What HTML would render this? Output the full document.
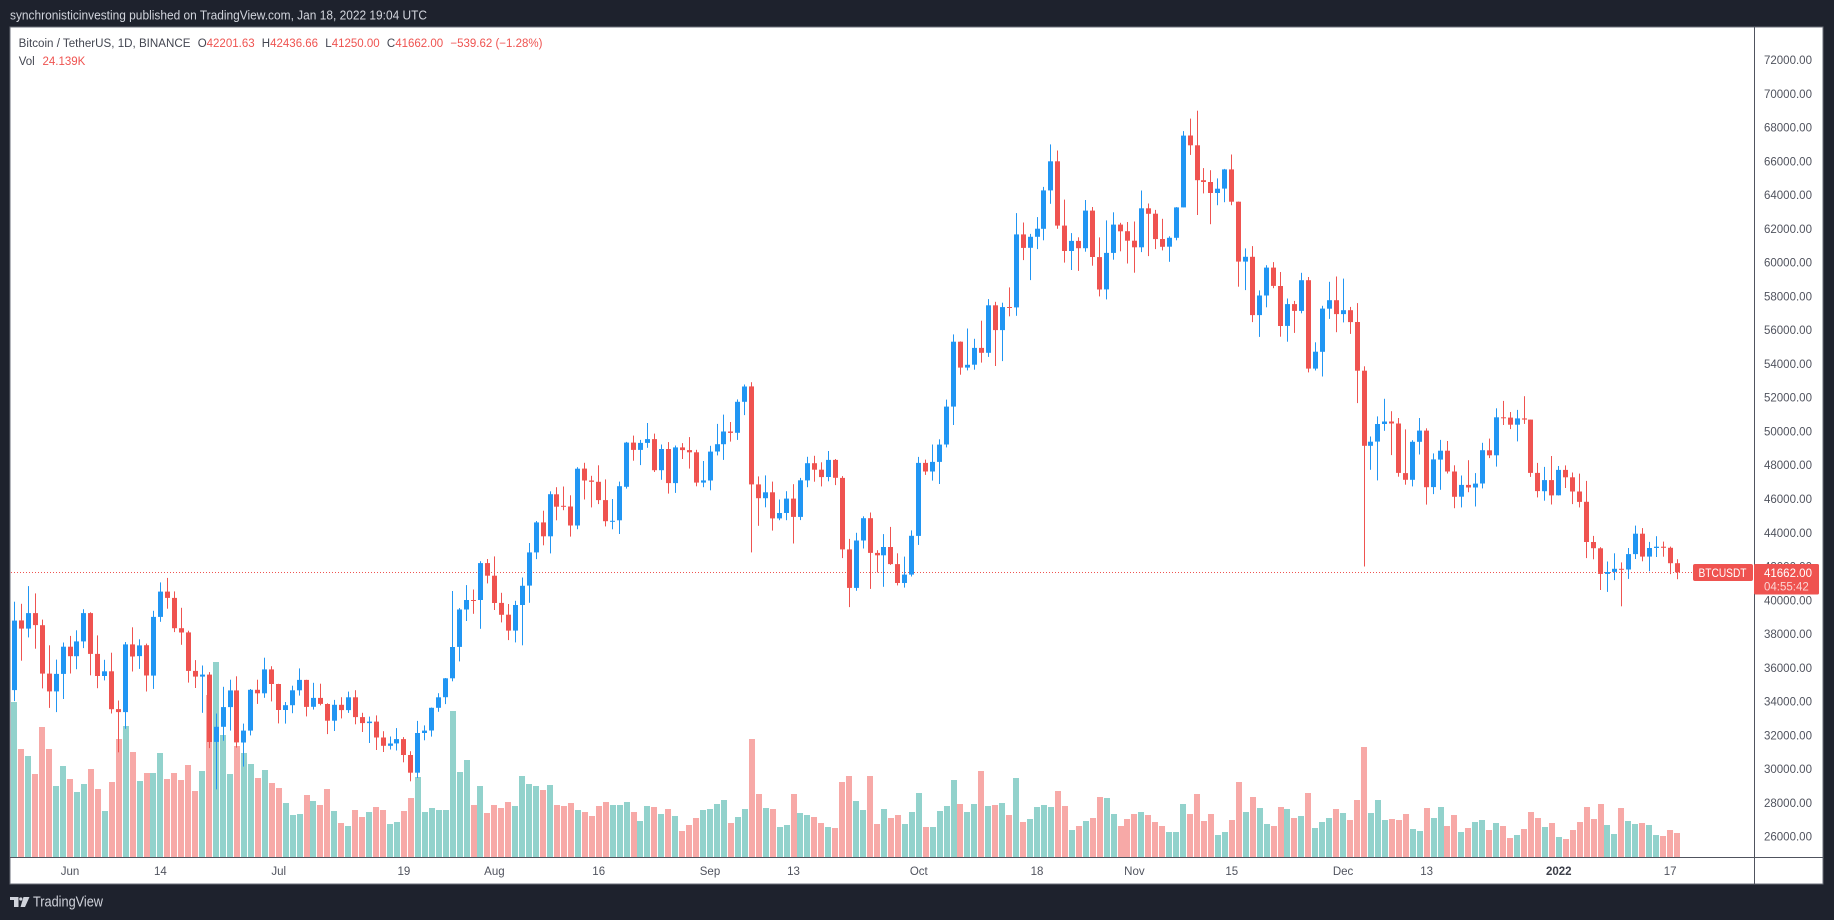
<!DOCTYPE html>
<html><head><meta charset="utf-8">
<style>
html,body{margin:0;padding:0;background:#1e222d;width:1834px;height:920px;overflow:hidden}
svg{display:block;font-family:"Liberation Sans",Arial,sans-serif}
</style></head><body>
<svg id="s" width="1834" height="920" viewBox="0 0 1834 920" xmlns="http://www.w3.org/2000/svg">
<defs><clipPath id="cp"><rect x="10.5" y="27" width="1743.5" height="830"/></clipPath></defs>
<rect width="1834" height="920" fill="#1e222d"/>
<rect x="10" y="27" width="1813" height="857" fill="#ffffff" stroke="#6a6d78" stroke-width="1"/>
<text x="10" y="19.5" font-size="12.5" fill="#d1d4dc" textLength="417" lengthAdjust="spacingAndGlyphs">synchronisticinvesting published on TradingView.com, Jan 18, 2022 19:04 UTC</text>

<g clip-path="url(#cp)">
  <g id="vol"></g>
  <line x1="11" y1="572.5" x2="1754" y2="572.5" stroke="#ef5350" stroke-width="1" stroke-dasharray="1,2"/>
  <g id="cand"></g>
</g>

<!-- legend -->
<g font-size="11.5">
<text x="18.7" y="46.8" fill="#434651" textLength="171.8" lengthAdjust="spacingAndGlyphs">Bitcoin / TetherUS, 1D, BINANCE</text>
<text x="197.7" y="46.8" fill="#434651">O<tspan fill="#ef5350">42201.63</tspan></text>
<text x="261.8" y="46.8" fill="#434651">H<tspan fill="#ef5350">42436.66</tspan></text>
<text x="325.3" y="46.8" fill="#434651">L<tspan fill="#ef5350">41250.00</tspan></text>
<text x="386.9" y="46.8" fill="#434651">C<tspan fill="#ef5350">41662.00</tspan></text>
<text x="450.4" y="46.8" fill="#ef5350">−539.62 (−1.28%)</text>
<text x="18.7" y="64.8" fill="#434651">Vol</text><text x="42.5" y="64.8" fill="#ef5350">24.139K</text>
</g>

<!-- axes separators -->
<line x1="1754.5" y1="27" x2="1754.5" y2="884" stroke="#50535e" stroke-width="1"/>
<line x1="10" y1="857.5" x2="1823" y2="857.5" stroke="#50535e" stroke-width="1"/>

<!-- price axis -->
<g font-size="11.5" fill="#50535e">
<text x="1764" y="64">72000.00</text>
<text x="1764" y="97.8">70000.00</text>
<text x="1764" y="131.5">68000.00</text>
<text x="1764" y="165.3">66000.00</text>
<text x="1764" y="199.1">64000.00</text>
<text x="1764" y="232.9">62000.00</text>
<text x="1764" y="266.6">60000.00</text>
<text x="1764" y="300.4">58000.00</text>
<text x="1764" y="334.2">56000.00</text>
<text x="1764" y="367.9">54000.00</text>
<text x="1764" y="401.7">52000.00</text>
<text x="1764" y="435.5">50000.00</text>
<text x="1764" y="469.2">48000.00</text>
<text x="1764" y="503">46000.00</text>
<text x="1764" y="536.8">44000.00</text>
<text x="1764" y="570.6">42000.00</text>
<text x="1764" y="604.3">40000.00</text>
<text x="1764" y="638.1">38000.00</text>
<text x="1764" y="671.9">36000.00</text>
<text x="1764" y="705.6">34000.00</text>
<text x="1764" y="739.4">32000.00</text>
<text x="1764" y="773.2">30000.00</text>
<text x="1764" y="806.9">28000.00</text>
<text x="1764" y="840.7">26000.00</text>
</g>

<!-- last price labels -->
<rect x="1693" y="564" width="60" height="17" rx="2" fill="#ef5350"/>
<text x="1698.5" y="577" font-size="11.5" fill="#ffffff" textLength="48" lengthAdjust="spacingAndGlyphs">BTCUSDT</text>
<rect x="1754" y="564" width="65" height="30.5" rx="1.5" fill="#ef5350"/>
<text x="1764" y="577" font-size="11.5" fill="#ffffff">41662.00</text>
<text x="1764" y="590.5" font-size="11.5" fill="#ffffff" fill-opacity="0.75">04:55:42</text>

<!-- time axis -->
<g font-size="11.5" fill="#50535e" text-anchor="middle">
<text x="70" y="875">Jun</text>
<text x="160.4" y="875">14</text>
<text x="278.7" y="875">Jul</text>
<text x="403.9" y="875">19</text>
<text x="494.4" y="875">Aug</text>
<text x="598.7" y="875">16</text>
<text x="710" y="875">Sep</text>
<text x="793.5" y="875">13</text>
<text x="918.8" y="875">Oct</text>
<text x="1037" y="875">18</text>
<text x="1134.4" y="875">Nov</text>
<text x="1231.8" y="875">15</text>
<text x="1343.1" y="875">Dec</text>
<text x="1426.6" y="875">13</text>
<text x="1558.8" y="875" font-weight="bold" fill="#3d404a">2022</text>
<text x="1670.1" y="875">17</text>
</g>

<!-- footer logo -->
<g fill="#d1d4dc">
<rect x="10" y="897" width="8.5" height="3"/>
<rect x="14" y="897" width="4.5" height="10"/>
<circle cx="20.8" cy="899" r="1.6"/>
<polygon points="23.5,897 29.5,897 25,907 20.5,907"/>
</g>
<text x="33" y="906.5" font-size="14.5" fill="#d1d4dc" textLength="70" lengthAdjust="spacingAndGlyphs">TradingView</text>
</svg>
<script>
var D=[
[37458,38270,31111,34655],[34681,39920,34031,38796],[38810,39791,36419,38324],[38324,40841,37800,39241],[39241,40411,37134,38529],[38529,38856,34779,35663],[35661,37338,33632,34605],[34605,36488,33379,35641],[35641,37499,34153,37253],
[37253,37894,35666,36693],[36694,38225,35920,37568],[37568,39476,37170,39246],[39246,39289,35555,36829],[36829,37925,34800,35520],[35516,36480,35258,35796],[35796,36900,33300,33552],[33556,34068,31000,33380],[33380,37534,32396,37388],[37389,38400,35782,36675],[36697,37690,35935,37331],[37340,37439,34600,35546],[35546,39380,34757,39020],[39020,41064,38730,40516],[40516,41330,39506,40144],[40143,40527,38116,38349],[38349,39559,37365,38092],[38098,38202,35129,35820],[35820,36457,34803,35483],[35483,36137,33336,35600],[35600,35750,31251,31608],[31614,33298,28805,32509],[32510,34881,31684,33678],[33675,35298,32286,34663],[34663,35500,31276,31584],[31577,32700,30151,32283],[32283,34749,32000,34700],[34702,35297,33862,34494],[34495,36600,34225,35911],[35911,36100,34017,35046],
[35045,35057,32711,33504],[33502,33977,32700,33787],[33786,34945,33316,34669],[34669,35967,34357,35287],[35288,35293,33125,33691],[33690,35118,33532,34220],[34220,35059,33777,33862],[33862,33900,32077,32875],[32875,34100,32261,33815],[33815,34262,33004,33502],[33502,34592,33331,34259],[34259,34679,32658,33086],[33086,33340,32202,32730],[32730,33114,31550,32820],[32820,33185,31133,31880],[31874,32249,31020,31383],[31384,31936,31164,31520],[31521,32435,31108,31778],[31778,31899,30407,30839],[30839,31063,29278,29790],[29790,32858,29482,32144],[32145,32591,31708,32287],[32287,33650,31925,33634],[33635,34500,33401,34258],[34262,35398,33851,35381],[35381,40550,35205,37237],[37241,39542,36383,39457],[39456,40900,38772,40019],[40020,40640,39200,40016],[40018,42316,38313,42206],[42206,42448,41000,41461],
[41461,42599,39422,39845],[39850,40444,38690,39147],[39146,39780,37642,38207],[38207,39969,37508,39723],[39723,41350,37332,40862],[40868,43392,39853,42836],[42836,44700,42446,44614],[44614,45310,43261,43792],[43794,46454,42779,46285],[46280,46700,44742,45543],[45595,46743,45341,45555],[45555,46218,43770,44428],[44429,47886,44217,47793],[47799,48144,45971,47096],[47096,47372,45500,47019],[47019,47998,45700,45936],[45937,47160,44376,44686],[44686,46000,44203,44709],[44741,47033,43927,46760],[46723,49382,46616,49339],[49339,49757,48273,48905],[48905,49500,48010,49321],[49322,50500,49029,49546],[49546,49875,47600,47707],[47706,49229,47136,48960],[48960,49368,46315,46942],[46942,49170,46360,49058],[49058,49309,48370,48897],[48897,49667,47801,48767],[48767,48915,46754,46970],[46970,48250,46700,47100],
[47100,49150,46512,48810],[48811,50450,48584,49246],[49247,51000,48316,49999],[50000,50558,49400,49915],[49918,51900,49500,51756],[51757,52780,50969,52663],[52667,52920,42843,46863],[46868,47340,44413,46048],[46048,47400,45513,46395],[46396,47033,44132,44851],[44851,45970,44742,45173],[45173,46460,44742,46026],[46026,46880,43370,44941],[44942,47250,44750,47111],[47103,48500,46700,48121],[48122,48557,47021,47737],[47737,48177,46750,47300],[47300,48844,47050,48314],[48315,48372,46829,47252],[47253,47358,42500,43016],[43016,43639,39600,40735],[40735,44000,40565,43543],[43546,44978,43069,44866],[44866,45200,40675,42810],[42810,42966,41646,42670],[42670,43920,40800,43160],[43160,44350,42098,42147],[42147,42787,40888,41026],[41026,42590,40753,41524],[41524,44141,41410,43824],
[43820,48495,43283,48141],[48141,48336,47430,47634],[47634,49228,47088,48200],[48200,49536,46891,49224],[49225,51887,49058,51471],[51471,55750,50382,55315],[55316,55332,53357,53785],[53785,56100,53617,53951],[53955,55490,53661,54949],[54949,56561,54080,54659],[54659,57839,54415,57471],[57471,57680,53879,56005],[56006,57625,54167,57367],[57370,58532,56818,57347],[57347,62933,56850,61672],[61672,62378,60150,60875],[60876,61700,58963,61528],[61529,62695,60800,62009],[62006,64487,61322,64280],[64281,67000,63482,66002],[66002,66639,62000,62193],[62193,63732,60000,60688],[60689,61747,59562,61287],[61286,61500,59510,60852],[60852,63710,60650,63078],[63079,63293,59817,60329],[60329,61496,58000,58413],[58413,62499,57821,60576],[60575,62980,60174,62253],[62253,62359,60674,61859],[61860,62405,59945,61299],
[61300,62437,59405,60911],[60911,64270,60624,63219],[63220,63500,60382,62896],[62897,63123,60799,61395],[61396,62595,60721,60937],[60940,61560,60050,61470],[61471,63286,61322,63273],[63274,67789,63273,67525],[67526,68530,66382,66947],[66947,69000,62822,64882],[64883,65600,64100,64774],[64775,65474,62278,64122],[64124,64990,63400,64380],[64380,65550,63576,65519],[65520,66401,63400,63606],[63606,63617,58574,60059],[60059,60840,58373,60345],[60345,60977,56474,56891],[56891,58352,55600,58053],[58057,59845,57353,59707],[59707,60029,58486,58623],[58617,59444,55610,56247],[56247,57875,55317,57541],[57541,57735,55837,57138],[57139,59398,57000,58960],[58960,59150,53500,53726],[53723,55281,53610,54722],[54716,57445,53256,57274],[57274,58865,56666,57776],[57776,59176,55875,56950],
[56951,59053,56458,57184],[57184,57375,55777,56481],[56485,57600,51680,53601],[53601,53859,42000,49152],[49152,49700,47727,49397],[49396,50891,47100,50441],[50441,51936,50039,50588],[50588,51200,48600,50472],[50471,50797,47320,47545],[47535,50125,46852,47140],[47140,49485,46751,49389],[49389,50798,48638,50053],[50054,50189,45672,46702],[46702,48700,46290,48343],[48336,49500,46547,48864],[48864,49436,47511,47632],[47632,47995,45456,46131],[46133,47392,45500,46834],[46834,48300,46406,46681],[46681,47537,45558,46914],[46914,49328,46630,48889],[48887,49576,48421,48589],[48588,51375,47920,50839],[50838,51810,50384,50820],[50820,51156,50142,50400],[50400,51280,49412,50775],[50775,52088,50450,50701],[50701,50704,47313,47543],[47544,48139,46096,46464],[46464,47900,45900,47120],[47120,48548,45678,46216],
[46216,47954,46208,47722],[47722,47990,46654,47286],[47286,47570,45696,46446],[46446,47505,45502,45832],[45832,47070,42500,43451],[43451,43816,42430,43082],[43082,43145,40610,41566],[41567,42300,40502,41679],[41679,42786,41200,41864],[41865,42248,39650,41822],[41822,43100,41268,42736],[42736,44423,42447,43946],[43946,44278,42311,42592],[42592,43459,41725,43099],[43099,43800,42566,43177],[43177,43478,42581,43113],[43113,43180,41550,42201],[42201,42437,41250,41662]
];
var V=[null,36,177,198,252,111,177,288,228,
267,306,282,237,297,363,276,147,108,186,273,249,249,189,267,249,270,225,303,243,15,-84,135,252,168,189,222,264,240,279,
294,339,375,372,315,333,345,297,363,399,408,360,381,366,351,360,402,396,363,324,261,366,354,360,360,63,246,210,345,288,369,
345,354,336,348,258,282,288,300,285,345,348,339,360,366,378,348,336,345,345,336,366,393,348,351,372,357,378,423,405,384,360,
357,342,330,399,381,357,147,312,354,357,411,405,312,369,375,381,399,411,414,276,258,333,360,258,402,357,384,375,402,366,
309,411,411,363,348,270,342,366,342,243,348,345,339,375,264,396,387,351,345,351,303,348,420,408,393,384,321,324,372,408,387,
372,366,375,396,408,426,426,342,372,312,393,372,435,426,390,276,366,321,354,402,408,351,357,384,378,309,414,396,384,357,
369,390,330,171,369,330,390,387,390,372,417,423,354,384,351,408,375,426,414,396,390,420,399,408,444,435,417,366,384,411,399,
441,447,420,396,351,387,342,405,432,354,393,402,399,405,435,438,420,429];
function Y(p){return 60+(72000-p)*0.016885;}
var vol='',cand='';
for(var i=0;i<D.length;i++){
  var d=i-9, cx=70+6.957*d, L=Math.round(cx-2.5);
  var o=D[i][0],h=D[i][1],l=D[i][2],c=D[i][3], up=c>=o;
  var col=up?'#2196f3':'#ef5350';
  var yh=Y(h),yl=Y(l),yt=Y(Math.max(o,c)),yb=Y(Math.min(o,c));
  cand+='<rect x="'+(L+2)+'" y="'+yh.toFixed(1)+'" width="1" height="'+(yl-yh).toFixed(1)+'" fill="'+col+'"/>';
  var bh=Math.max(1,yb-yt);
  cand+='<rect x="'+L+'" y="'+yt.toFixed(1)+'" width="5" height="'+bh.toFixed(1)+'" fill="'+col+'"/>';
  if(V[i]!==null&&V[i]!==undefined){
    var vt=690+V[i]/3, vl=Math.round(cx-3);
    vol+='<rect x="'+vl+'" y="'+vt.toFixed(1)+'" width="6" height="'+(857-vt).toFixed(1)+'" fill="'+(up?'#92d2cc':'#f7a9a7')+'"/>';
  }
}
document.getElementById('vol').innerHTML=vol;
document.getElementById('cand').innerHTML=cand;
</script>
</body></html>
